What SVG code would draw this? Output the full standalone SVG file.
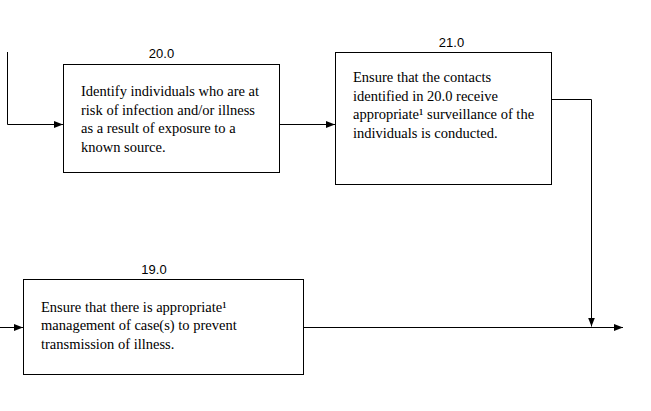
<svg xmlns="http://www.w3.org/2000/svg" width="651" height="411" viewBox="0 0 651 411">
<style>
.box{fill:#fff;stroke:#000;stroke-width:1}
.t{font-family:"Liberation Serif","Times New Roman",serif;font-size:14.5px;fill:#000}
.lbl{font-family:"Liberation Sans",Arial,sans-serif;font-size:13px;fill:#000;text-anchor:middle}
.c{fill:none;stroke:#000;stroke-width:1}
</style>
<defs>
<marker id="ah" markerUnits="userSpaceOnUse" markerWidth="10" markerHeight="8" refX="9" refY="3.5" orient="auto">
<path d="M0,0 L9,3.5 L0,7 z" fill="#000"/>
</marker>
</defs>
<rect width="651" height="411" fill="#fff"/>
<g id="connectors">
<path class="c" d="M7.5 52 V124.5 H63" marker-end="url(#ah)"/>
<path class="c" d="M279.5 124.5 H335" marker-end="url(#ah)"/>
<path class="c" d="M551.5 99.5 H591.5 V326.5" marker-end="url(#ah)"/>
<path class="c" d="M0 327.5 H23" marker-end="url(#ah)"/>
<path class="c" d="M303.5 327.5 H623" marker-end="url(#ah)"/>
</g>
<g id="node20">
<text class="lbl" x="161.5" y="58">20.0</text>
<rect class="box" x="63.5" y="64.5" width="216" height="108"/>
<text class="t"><tspan x="81" y="96">Identify individuals who are at</tspan><tspan x="81" y="114.6">risk of infection and/or illness</tspan><tspan x="81" y="133.2">as a result of exposure to a</tspan><tspan x="81" y="151.8">known source.</tspan></text>
</g>
<g id="node21">
<text class="lbl" x="451.5" y="47">21.0</text>
<rect class="box" x="335.5" y="52.5" width="216" height="132"/>
<text class="t"><tspan x="353" y="82">Ensure that the contacts</tspan><tspan x="353" y="100.6">identified in 20.0 receive</tspan><tspan x="353" y="119.2">appropriate¹ surveillance of the</tspan><tspan x="353" y="137.8">individuals is conducted.</tspan></text>
</g>
<g id="node19">
<text class="lbl" x="154" y="273.5">19.0</text>
<rect class="box" x="23.5" y="279.5" width="280" height="95"/>
<text class="t"><tspan x="41" y="312">Ensure that there is appropriate¹</tspan><tspan x="41" y="330.4">management of case(s) to prevent</tspan><tspan x="41" y="348.8">transmission of illness.</tspan></text>
</g>
</svg>
